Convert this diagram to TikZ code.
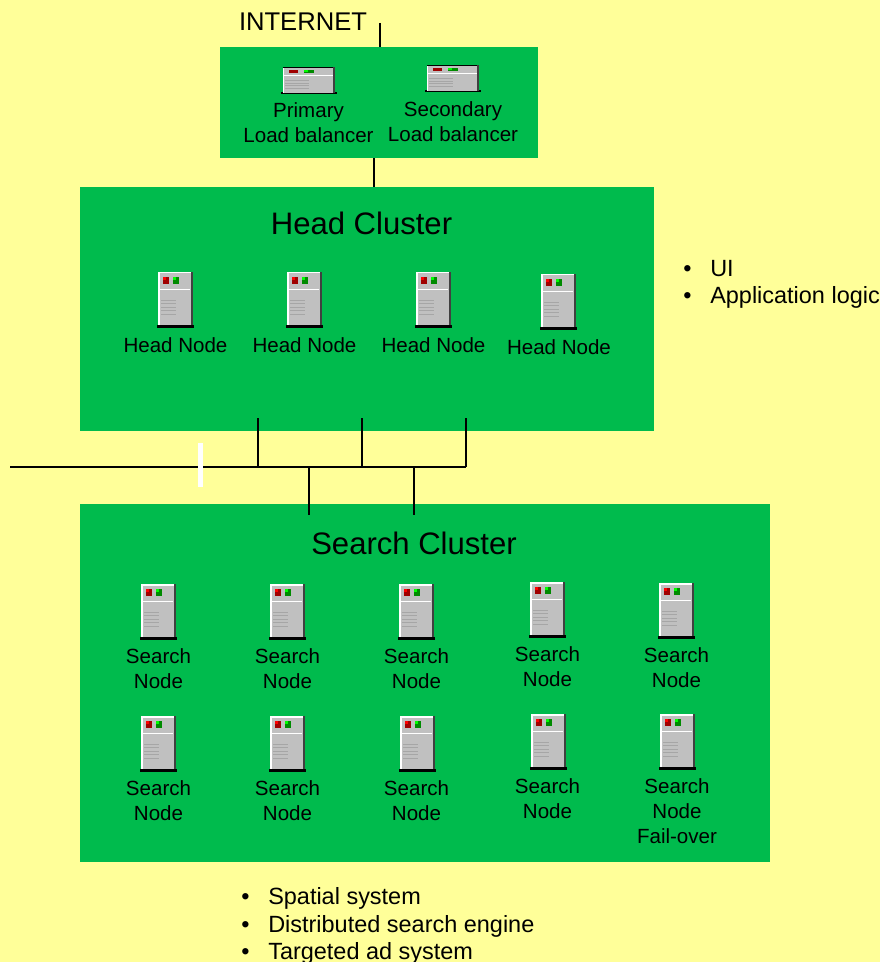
\documentclass[tikz,border=0pt]{standalone}
\usepackage{fontspec}
\setmainfont{Liberation Sans}
\definecolor{paleyellow}{HTML}{FFFF99}
\definecolor{clustergreen}{HTML}{00BB4D}
\definecolor{boxgray}{HTML}{C0C0C0}
\definecolor{ledred}{HTML}{A00000}
\definecolor{ledgreen}{HTML}{008A00}
\newcommand{\bulletrow}[1]{\makebox[20.25pt][l]{\textbullet}#1}
\tikzset{
    cluster/.style={fill=clustergreen, inner sep=0pt},
    nodelabel/.style={align=center, font=\fontsize{15.4}{18.75}\selectfont},
    clustertitle/.style={font=\fontsize{23.3}{28}\selectfont},
    listrow/.style={anchor=base west, inner sep=0pt, font=\fontsize{17.6}{21}\selectfont},
    wire/.style={line width=1.15pt},
    tower/.pic={
        \fill[black] (-1,53) rectangle (36,56);
        \fill[boxgray] (0,0) rectangle (35,53);
        \fill[white] (0,0) rectangle (35,1.5);
        \fill[white] (0,0) rectangle (1.5,53);
        \fill[black!75] (33,0) rectangle (35,53);
        \draw[white, line width=0.5pt] (2,17) -- (32,17);
        \fill[ledred] (5,5) rectangle (11,12);
        \fill[ledgreen] (15,5) rectangle (21,12);
        \fill[red] (5,5) rectangle (8,8);
        \fill[green] (15,5) rectangle (18,8);
        \draw[black!35, line width=0.6pt] (3,28) -- (18,28) (3,31.5) -- (18,31.5) (3,35) -- (18,35) (3,38.5) -- (18,38.5) (3,42) -- (18,42);
    },
    rackunit/.pic={
        \fill[black] (-2,25) rectangle (54,27);
        \fill[boxgray] (0,0) rectangle (52,26);
        \draw[black, line width=0.6pt] (0,0) -- (52,0);
        \fill[black!75] (50,0) rectangle (52,26);
        \fill[white] (0,0.5) rectangle (1.2,26);
        \draw[white, line width=0.4pt] (1,8) -- (50,8);
        \fill[ledred] (6,3) rectangle (15,6);
        \fill[ledgreen] (21,3) rectangle (31,6);
        \fill[green] (21,3) rectangle (25,4.5);
        \draw[black!35, line width=0.5pt] (2,13) -- (26,13) (2,15.5) -- (26,15.5) (2,18) -- (26,18) (2,20.5) -- (26,20.5);
    }
}
\begin{document}
\begin{tikzpicture}[x=0.75pt, y=-0.75pt]
    % Page
    \useasboundingbox (0,0) rectangle (880,962);
    \fill[paleyellow] (0,0) rectangle (880,962);

    % Clusters
    \node[cluster, minimum width=238.5pt, minimum height=83.25pt] (lbbox) at (379,102.5) {};
    \node[cluster, minimum width=430.5pt, minimum height=183pt] (headbox) at (367,309) {};
    \node[cluster, minimum width=517.5pt, minimum height=268.5pt] (searchbox) at (425,683) {};
    \node[clustertitle] (headtitle) at (361.5,223) {Head Cluster};
    \node[clustertitle] (searchtitle) at (414,543) {Search Cluster};

    % Free ends of the wires
    \coordinate (inettop) at (380,23);
    \coordinate (headin) at (374,187);
    \coordinate (busleft) at (10,467);
    \coordinate (busright) at (466,467);
    \coordinate (headtapa) at (258,418);
    \coordinate (headtapb) at (362,418);
    \coordinate (headtapc) at (466,418);
    \coordinate (searchtapa) at (309,515);
    \coordinate (searchtapb) at (414,515);

    % Wires
    \node[font=\fontsize{19.2}{23}\selectfont] (internet) at (303,22) {INTERNET};
    \draw[wire] (inettop) -- (inettop |- lbbox.north);
    \draw[wire] (headin |- lbbox.south) -- (headin);
    \draw[line width=1.5pt] (busleft) -- (busright);
    \draw[wire] (headtapa) -- (headtapa |- busleft);
    \draw[wire] (headtapb) -- (headtapb |- busleft);
    \draw[wire] (headtapc) -- (busright);
    \draw[wire] (searchtapa |- busleft) -- (searchtapa);
    \draw[wire] (searchtapb |- busleft) -- (searchtapb);
    \fill[white] (198,443) rectangle (203,487);

    % Load balancers
    \pic at (283,67.5) {rackunit};
    \pic at (427,65.5) {rackunit};
    \node[nodelabel] (primary) at (308.5,123) {Primary\\Load balancer};
    \node[nodelabel] (secondary) at (453,121.5) {Secondary\\Load balancer};

    % Head nodes
    \pic at (158,272) {tower};
    \pic at (287,272) {tower};
    \pic at (416,272) {tower};
    \pic at (541,274) {tower};
    \node[nodelabel] (heada) at (175.5,345) {Head Node};
    \node[nodelabel] (headb) at (304.5,345) {Head Node};
    \node[nodelabel] (headc) at (433.5,345) {Head Node};
    \node[nodelabel] (headd) at (559,347) {Head Node};

    % Search nodes, upper row
    \pic at (141,584) {tower};
    \pic at (270,584) {tower};
    \pic at (399,584) {tower};
    \pic at (530,582) {tower};
    \pic at (659,583) {tower};
    \node[nodelabel] (searcha) at (158.5,668.5) {Search\\Node};
    \node[nodelabel] (searchb) at (287.5,668.5) {Search\\Node};
    \node[nodelabel] (searchc) at (416.5,668.5) {Search\\Node};
    \node[nodelabel] (searchd) at (547.5,666.5) {Search\\Node};
    \node[nodelabel] (searche) at (676.5,667.5) {Search\\Node};

    % Search nodes, lower row
    \pic at (141,716) {tower};
    \pic at (270,716) {tower};
    \pic at (400,716) {tower};
    \pic at (531,714) {tower};
    \pic at (660,714) {tower};
    \node[nodelabel] (searchf) at (158.5,800.5) {Search\\Node};
    \node[nodelabel] (searchg) at (287.5,800.5) {Search\\Node};
    \node[nodelabel] (searchh) at (416.5,800.5) {Search\\Node};
    \node[nodelabel] (searchi) at (547.5,798.5) {Search\\Node};
    \node[nodelabel] (searchj) at (677,811) {Search\\Node\\Fail-over};

    % Lists
    \node[listrow] (headlista) at (683,276.5) {\bulletrow{UI}};
    \node[listrow] (headlistb) at (683,303.5) {\bulletrow{Application logic}};
    \node[listrow] (searchlista) at (241,904) {\bulletrow{Spatial system}};
    \node[listrow] (searchlistb) at (241,932) {\bulletrow{Distributed search engine}};
    \node[listrow] (searchlistc) at (241,959) {\bulletrow{Targeted ad system}};
\end{tikzpicture}
\end{document}
